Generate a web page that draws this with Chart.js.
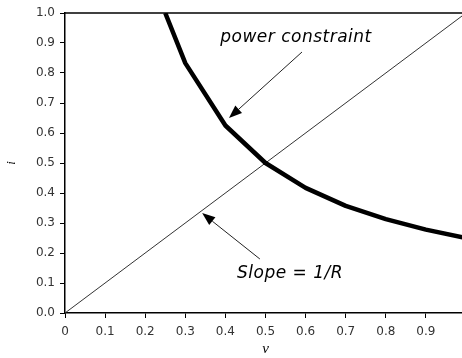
<!DOCTYPE html>
<html>
<head>
<meta charset="utf-8">
<script src="https://cdn.jsdelivr.net/npm/chart.js@4"></script>
<style>
  html, body { margin: 0; padding: 0; background: #fff; overflow: hidden; }
  #wrap { width: 470px; height: 358px; position: relative; }
</style>
</head>
<body>
<div id="wrap"><canvas id="chart"></canvas></div>
<script>
// data
const powerV = [0.25, 0.3, 0.4, 0.5, 0.6, 0.7, 0.8, 0.9, 1.0]
const powerI = [1.0, 0.833, 0.625, 0.5, 0.417, 0.357, 0.313, 0.278, 0.25]
const loadV = [0, 1]
const loadI = [0, 1]
const xTickLabels = ['0', '0.1', '0.2', '0.3', '0.4', '0.5', '0.6', '0.7', '0.8', '0.9', '1']
const yTickLabels = ['0.0', '0.1', '0.2', '0.3', '0.4', '0.5', '0.6', '0.7', '0.8', '0.9', '1.0']

// annotation text and arrows, in data units
const notes = [
  { text: 'power constraint', x: 0.387, y: 0.917, tail: [0.591, 0.87], tip: [0.409, 0.65] },
  { text: 'Slope = 1/R', x: 0.429, y: 0.13, tail: [0.486, 0.18], tip: [0.342, 0.333] }
]

const tickFont = { family: 'DejaVu Sans', size: 12 }

const extras = {
  id: 'extras',
  afterDatasetsDraw(chart) {
    const ctx = chart.ctx
    const a = chart.chartArea
    const xs = chart.scales.x, ys = chart.scales.y
    ctx.save()
    // top frame line
    ctx.strokeStyle = '#000'
    ctx.lineWidth = 1.5
    ctx.beginPath()
    ctx.moveTo(a.left, a.top)
    ctx.lineTo(a.right, a.top)
    ctx.stroke()

    notes.forEach(n => {
      ctx.fillStyle = '#000'
      ctx.font = 'italic 17px "DejaVu Sans"'
      ctx.letterSpacing = '0.5px'
      ctx.textBaseline = 'middle'
      ctx.textAlign = 'left'
      ctx.fillText(n.text, xs.getPixelForValue(n.x), ys.getPixelForValue(n.y))

      const x1 = xs.getPixelForValue(n.tail[0]), y1 = ys.getPixelForValue(n.tail[1])
      const x2 = xs.getPixelForValue(n.tip[0]), y2 = ys.getPixelForValue(n.tip[1])
      const ang = Math.atan2(y2 - y1, x2 - x1)
      const len = 13, half = 5
      const bx = x2 - len * Math.cos(ang), by = y2 - len * Math.sin(ang)
      ctx.strokeStyle = '#222'
      ctx.lineWidth = 1
      ctx.beginPath()
      ctx.moveTo(x1, y1)
      ctx.lineTo(bx, by)
      ctx.stroke()
      ctx.beginPath()
      ctx.moveTo(x2, y2)
      ctx.lineTo(bx + half * Math.sin(ang), by - half * Math.cos(ang))
      ctx.lineTo(bx - half * Math.sin(ang), by + half * Math.cos(ang))
      ctx.closePath()
      ctx.fill()
    })
    ctx.restore()
  }
}

new Chart(document.getElementById('chart'), {
  type: 'line',
  data: {
    datasets: [
      {
        label: 'power constraint',
        data: powerV.map((v, i) => ({ x: v, y: powerI[i] })),
        borderColor: '#000',
        borderWidth: 4.5,
        pointRadius: 0,
        tension: 0,
        borderJoinStyle: 'round'
      },
      {
        label: 'Slope = 1/R',
        data: loadV.map((v, i) => ({ x: v, y: loadI[i] })),
        borderColor: '#333',
        borderWidth: 1,
        pointRadius: 0
      }
    ]
  },
  options: {
    responsive: true,
    maintainAspectRatio: false,
    animation: false,
    layout: { padding: { top: 13, right: 4, left: 0, bottom: 0 } },
    plugins: { legend: { display: false }, tooltip: { enabled: false } },
    scales: {
      x: {
        type: 'linear', min: 0, max: 1,
        border: { color: '#000', width: 1.5 },
        grid: { drawOnChartArea: false, color: '#000', tickLength: 5 },
        ticks: { stepSize: 0.1, color: '#333', font: tickFont, padding: 7, maxRotation: 0,
          callback: (v, idx) => xTickLabels[idx] },
        title: { display: true, text: 'v', color: '#000', font: { family: 'Liberation Serif', size: 15, style: 'italic' }, padding: { top: 0, bottom: 0 } },
        afterFit: s => { s.height = 45; s.paddingLeft = 0; s.paddingRight = 0 }
      },
      y: {
        type: 'linear', min: 0, max: 1,
        border: { color: '#000', width: 1.5 },
        grid: { drawOnChartArea: false, color: '#000', tickLength: 5 },
        ticks: { stepSize: 0.1, color: '#333', font: tickFont, padding: 5,
          callback: (v, idx) => yTickLabels[idx] },
        title: { display: true, text: 'i', color: '#000', font: { family: 'Liberation Serif', size: 13, style: 'italic' }, padding: { top: 4, bottom: 0 } },
        afterFit: s => { s.width = 65; s.paddingTop = 0; s.paddingBottom = 0 }
      }
    }
  },
  plugins: [extras]
})
</script>
</body>
</html>
